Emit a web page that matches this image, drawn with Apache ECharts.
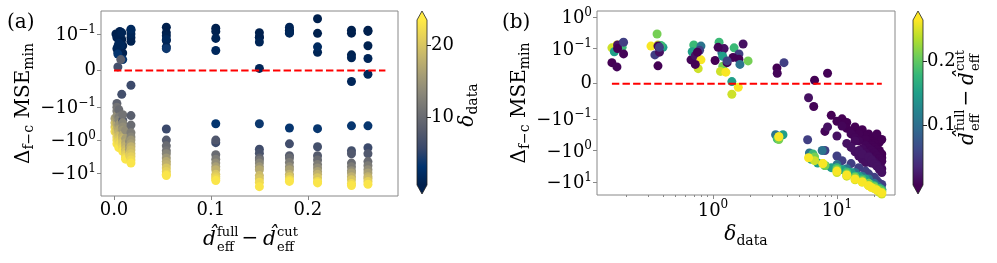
<!DOCTYPE html>
<html><head><meta charset="utf-8">
<script src="https://cdn.jsdelivr.net/npm/echarts@6/dist/echarts.min.js"></script>
<style>html,body{margin:0;padding:0;background:#fff}#c{width:997px;height:263px}</style>
</head><body><div id="c"></div>
<script>
// ---------- data: [dEffFull - dEffCut, delta_data, Delta_{f-c} MSE_min] ----------
const upperPoints = [
  [0.245,0.153,0.106],[0.262,0.168,0.13],[0.150,0.160,0.091],[0.210,0.180,0.105],[0.105,0.188,0.15],
  [0.004,0.153,0.06],[0.009,0.168,0.048],[0.181,0.185,0.11],[0.0175,0.17,0.13],[0.002,0.17,0.10],
  [0.008,0.19,0.085],[0.054,0.19,0.16],
  [0.210,0.354,0.29],[0.262,0.316,0.12],[0.245,0.360,0.13],[0.054,0.340,0.082],[0.150,0.395,0.11],
  [0.0175,0.37,0.09],[0.004,0.36,0.051],[0.181,0.38,0.125],[0.006,0.36,0.12],[0.054,0.37,0.11],
  [0.009,0.665,0.068],[0.181,0.70,0.13],[0.150,0.68,0.091],[0.0175,0.72,0.08],[0.105,0.80,0.12],
  [0.262,0.80,0.068],[0.245,0.76,0.043],[0.054,0.78,0.095],[0.003,0.75,0.09],[0.006,0.72,0.055],
  [0.004,1.04,0.066],[0.181,1.12,0.16],[0.105,1.18,0.088],[0.0175,1.23,0.10],[0.150,1.20,0.078],
  [0.210,1.20,0.05],[0.245,1.15,0.035],[0.262,1.27,0.033],[0.150,1.42,0.006],[0.262,1.60,-0.01],
  [0.245,1.42,-0.03],[0.181,1.48,0.106],[0.054,1.62,0.085],[0.007,1.62,0.07],[0.105,1.65,0.055],
  [0.0175,1.75,0.14],[0.210,1.92,0.065],[0.008,1.10,0.11],[0.005,1.45,0.075],[0.003,1.30,0.06],
  [0.054,1.30,0.065],
  [0.004,3.28,0.045],[0.009,3.30,0.03],[0.054,3.74,0.06],[0.004,6.6,0.01],[0.007,8.4,0.03],
  [0.0175,5.9,-0.04],[0.008,6.5,-0.065]
];
const lowerPoints = [
  [0.001,16,-0.22],[0.001,18,-0.3],[0.001,20,-0.4],[0.001,22,-0.55],[0.002,21,-0.3],[0.002,23,-0.45],
  [0.003,9,-0.09],[0.003,11,-0.1],[0.003,12,-0.13],[0.003,14,-0.18],[0.003,15,-0.25],[0.003,16,-0.3],
  [0.003,17,-0.35],[0.003,18,-0.45],[0.003,19,-0.55],[0.003,20,-0.6],[0.003,21,-0.8],[0.003,22,-1.0],[0.003,23,-1.3],
  [0.005,10,-0.12],[0.005,12,-0.2],[0.005,13,-0.25],[0.005,15,-0.35],[0.005,16,-0.45],[0.005,17,-0.5],
  [0.005,18,-0.6],[0.005,19,-0.75],[0.005,20,-0.9],[0.005,21,-1.1],[0.005,22,-1.4],[0.005,23,-1.7],
  [0.007,15,-0.3],[0.007,17,-0.45],[0.007,19,-0.7],[0.007,20,-0.8],[0.007,21,-0.95],[0.007,22,-1.2],
  [0.009,8,-0.25],[0.009,11,-0.17],[0.009,13,-0.3],[0.009,14,-0.4],[0.009,15,-0.5],[0.009,17,-0.7],
  [0.009,18,-0.85],[0.009,19,-1.0],[0.009,20,-1.2],[0.009,21,-1.5],[0.009,22,-1.8],[0.009,23,-2.2],
  [0.012,14,-0.5],[0.012,16,-0.9],[0.012,17,-1.2],[0.012,18,-1.5],[0.012,19,-1.9],[0.012,20,-2.3],
  [0.012,21,-2.8],[0.012,22,-3.3],[0.012,23,-3.8],
  [0.016,14,-1.1],[0.016,15,-1.5],[0.016,16,-1.9],[0.016,17,-2.4],[0.016,19,-2.5],[0.016,21,-2.9],
  [0.0175,8.4,-0.18],[0.0175,10,-0.35],[0.0175,12,-0.6],[0.0175,13,-0.8],[0.0175,15,-1.0],[0.0175,16,-1.3],
  [0.0175,18,-1.6],[0.0175,19,-2.0],[0.0175,20,-2.6],[0.0175,21,-3.2],[0.0175,22,-4.0],[0.0175,23,-5.0],
  [0.054,5.8,-0.46],[0.054,8,-1.0],[0.054,10,-1.5],[0.054,11,-2.1],[0.054,13,-2.6],[0.054,15,-3.5],
  [0.054,17,-4.5],[0.054,18,-5.5],[0.054,20,-7],[0.054,21,-9],[0.054,22,-11],[0.054,23,-12],
  [0.105,3.2,-0.32],[0.105,6.0,-1.2],[0.105,7.6,-1.0],[0.105,10,-2.8],[0.105,12,-3.8],[0.105,14,-5],
  [0.105,16,-6.5],[0.105,18,-8],[0.105,20,-11],[0.105,21,-13],[0.105,22,-15],[0.105,23,-17],
  [0.150,3.67,-0.32],[0.150,6.2,-1.9],[0.150,7,-2.5],[0.150,9,-3.5],[0.150,11,-4],[0.150,13,-5],
  [0.150,15,-6.5],[0.150,17,-8],[0.150,19,-12],[0.150,20,-15],[0.150,22,-19],[0.150,23,-26],
  [0.181,3.3,-0.43],[0.181,6.4,-1.3],[0.181,8,-3.0],[0.181,10,-3.5],[0.181,12,-4.8],[0.181,14,-6.5],
  [0.181,16,-8],[0.181,18,-11],[0.181,20,-13],[0.181,22,-16],[0.181,23,-18],
  [0.210,3.4,-0.45],[0.210,6.6,-1.6],[0.210,8,-3.0],[0.210,10,-4],[0.210,12,-5.5],[0.210,14,-7],
  [0.210,16,-9],[0.210,18,-11],[0.210,20,-14],[0.210,22,-18],[0.210,23,-20],
  [0.245,3.4,-0.37],[0.245,6.6,-2.1],[0.245,7.7,-2.6],[0.245,10,-5],[0.245,12,-6.5],[0.245,14,-8.5],
  [0.245,16,-10],[0.245,18,-13],[0.245,20,-16],[0.245,22,-21],[0.245,23,-24],
  [0.262,3.4,-0.37],[0.262,5.9,-1.7],[0.262,7.7,-2.6],[0.262,10,-4.5],[0.262,12,-6],[0.262,14,-8],
  [0.262,16,-10],[0.262,18,-13],[0.262,19,-15],[0.262,21,-18],[0.262,23,-22]
];
// axis limits and ticks
const xLimitsA = [-0.0134, 0.293];
const xTicksA = [0, 0.1, 0.2];
const yLimitsA = [-50, 0.5];
const yTicksA = [0.1, 0, -0.1, -1, -10];
const xLimitsB = [0.116, 29.4];
const xTicksB = [1, 10];
const xMinorTicksB = [0.2,0.3,0.4,0.5,0.6,0.7,0.8,0.9,2,3,4,5,6,7,8,9,20];
const yLimitsB = [-25.7, 1.55];
const yTicksB = [1, 0.1, 0, -0.1, -1, -10];
const deltaRange = [0.55, 23.47];
const dDiffRange = [0.006, 0.264];
const cbarTicksA = [10, 20];
const cbarTicksB = [0.1, 0.2];
const zeroLineA = [0, 0.28];
const cividis = ['#00204D','#00336F','#39486B','#575C6D','#707173','#8A8779','#A69D75','#C4B56C','#E4CF5B','#FFEA46'];
const viridis = ['#440154','#482878','#3E4A89','#31688E','#26828E','#1F9E89','#35B779','#6DCD59','#B4DE2C','#FDE725'];

// ---------- helpers ----------
const LT = 0.1, LS = 1 / (1 - 1 / 10);
function symlog(v){ const a = Math.abs(v); if (a <= LT) return v / LT * LS; return Math.sign(v) * (LS + Math.log10(a / LT)); }
const clamp = (v, lo, hi) => Math.max(lo, Math.min(hi, v));
const FONT = 'DejaVu Serif';
const allPoints = upperPoints.concat(lowerPoints);
const dataA = allPoints.map(p => [p[0], symlog(p[2]), clamp(p[1], deltaRange[0], deltaRange[1])]);
const dataB = allPoints.map(p => [Math.log10(p[1]), symlog(p[2]), clamp(p[0], dDiffRange[0], dDiffRange[1])]);
const deltas = allPoints.map(p => p[1]);
const zeroLineB = [Math.min(...deltas), Math.max(...deltas)];

const richTick = {
  b: {fontSize: 18, fontFamily: FONT, color: '#000', verticalAlign: 'bottom'},
  sup: {fontSize: 12, fontFamily: FONT, color: '#000', verticalAlign: 'bottom', padding: [0, 0, 9, 0]}
};
function symlogLabelFor(ticks){
  return function(val){
    let t = ticks.find(tt => Math.abs(symlog(tt) - val) < 1e-6);
    if (t === undefined) return '';
    if (t === 0) return '{b|0}';
    const e = Math.round(Math.log10(Math.abs(t)));
    return '{b|' + (t < 0 ? '\u2212' : '') + '10}{sup|' + (e < 0 ? '\u2212' + (-e) : e) + '}';
  };
}
const richName = {
  b: {fontSize: 20, fontFamily: FONT, color: '#000', verticalAlign: 'top'},
  i: {fontSize: 20, fontFamily: FONT, fontStyle: 'italic', color: '#000', verticalAlign: 'top'},
  sub: {fontSize: 14, fontFamily: FONT, color: '#000', verticalAlign: 'top', padding: [9, 0, 0, 0]}
};
const yName = '{b|\u0394}{sub|f\u2212c}{b| MSE}{sub|min}';
const tickLine = {color: '#888', width: 1};
const noLine = {show: false, onZero: false};

function yAxisSym(gi, limits, ticks){
  const tv = ticks.map(symlog);
  return {gridIndex: gi, type: 'value', position: 'left', min: symlog(limits[0]), max: symlog(limits[1]),
    axisLine: noLine, splitLine: {show: false},
    axisTick: {customValues: tv, length: 4, lineStyle: tickLine},
    axisLabel: {customValues: tv, formatter: symlogLabelFor(ticks), rich: richTick, margin: 5},
    name: yName, nameLocation: 'middle', nameRotate: 90, nameGap: 64,
    nameTextStyle: {rich: richName}};
}
function cbarSeries(xi, yi, range, stops){
  return {type: 'custom', xAxisIndex: xi, yAxisIndex: yi, silent: true, data: [[0, range[0], range[1]]],
    renderItem: function(params, api){
      const top = api.coord([0, range[1]]), bot = api.coord([1, range[0]]);
      const x0 = top[0], x1 = bot[0], y0 = top[1], y1 = bot[1], xm = (x0 + x1) / 2, ah = 9;
      const grad = new echarts.graphic.LinearGradient(0, 1, 0, 0, stops.map((c, i) => ({offset: i / (stops.length - 1), color: c})));
      return {type: 'group', children: [
        {type: 'rect', shape: {x: x0, y: y0, width: x1 - x0, height: y1 - y0}, style: {fill: grad}},
        {type: 'polygon', shape: {points: [[x0, y0], [x1, y0], [xm, y0 - ah]]}, style: {fill: stops[stops.length - 1]}},
        {type: 'polygon', shape: {points: [[x0, y1], [x1, y1], [xm, y1 + ah]]}, style: {fill: stops[0]}},
        {type: 'polygon', shape: {points: [[x0, y0], [xm, y0 - ah], [x1, y0], [x1, y1], [xm, y1 + ah], [x0, y1]]}, style: {fill: 'none', stroke: '#222', lineWidth: 0.8}}
      ]};
    }};
}
function cbarAxis(gi, range, ticks, fmt){
  return {gridIndex: gi, type: 'value', position: 'right', min: range[0], max: range[1],
    axisLine: noLine, splitLine: {show: false},
    axisTick: {customValues: ticks, length: 4, lineStyle: {color: '#222'}},
    axisLabel: {customValues: ticks, formatter: fmt, fontFamily: FONT, fontSize: 18, color: '#000', margin: 4}};
}
function dDiffLabel(cx, cy, rot){
  const t = (x, y, text, size, italic, align) => ({type: 'text', x: x, y: y, silent: true,
    style: {text: text, fontFamily: FONT, fontSize: size, fontStyle: italic ? 'italic' : 'normal', fill: '#000', align: align || 'left', verticalAlign: 'middle'}});
  return {type: 'group', x: cx, y: cy, rotation: rot || 0, children: [
    t(-47, 0, 'd\u0302', 20, true),
    t(-33, -7.5, 'full', 13),
    t(-33, 7.5, 'eff', 13),
    t(0, -1, '\u2212', 20, false, 'center'),
    t(13, 0, 'd\u0302', 20, true),
    t(27, -7.5, 'cut', 13),
    t(27, 7.5, 'eff', 13)
  ]};
}

const chart = echarts.init(document.getElementById('c'), null, {renderer: 'canvas'});
chart.setOption({
  animation: false,
  backgroundColor: '#fff',
  grid: [
    {left: 101, top: 11, width: 297, height: 185, show: true, borderColor: '#888', borderWidth: 1, backgroundColor: 'transparent'},
    {left: 597, top: 11, width: 298, height: 184, show: true, borderColor: '#888', borderWidth: 1, backgroundColor: 'transparent'},
    {left: 417, top: 20, width: 10, height: 165},
    {left: 913, top: 20, width: 10, height: 165}
  ],
  xAxis: [
    {gridIndex: 0, type: 'value', position: 'bottom', min: xLimitsA[0], max: xLimitsA[1], axisLine: noLine, splitLine: {show: false},
      axisTick: {customValues: xTicksA, length: 4, lineStyle: tickLine},
      axisLabel: {customValues: xTicksA, formatter: v => v.toFixed(1), fontFamily: FONT, fontSize: 18, color: '#000', margin: 5}},
    {gridIndex: 1, type: 'value', position: 'bottom', min: Math.log10(xLimitsB[0]), max: Math.log10(xLimitsB[1]), axisLine: noLine, splitLine: {show: false},
      axisTick: {customValues: xTicksB.map(Math.log10), length: 4, lineStyle: tickLine},
      axisLabel: {customValues: xTicksB.map(Math.log10), formatter: v => '{b|10}{sup|' + Math.round(v) + '}', rich: richTick, margin: 4},
      name: '{i|\u03b4}{sub|data}', nameLocation: 'middle', nameGap: 28, nameTextStyle: {rich: richName}},
    {gridIndex: 1, type: 'value', position: 'bottom', min: Math.log10(xLimitsB[0]), max: Math.log10(xLimitsB[1]), axisLine: noLine, splitLine: {show: false},
      axisTick: {customValues: xMinorTicksB.map(Math.log10), length: 2, lineStyle: tickLine}, axisLabel: {show: false}},
    {gridIndex: 2, type: 'value', min: 0, max: 1, show: false},
    {gridIndex: 3, type: 'value', min: 0, max: 1, show: false}
  ],
  yAxis: [
    yAxisSym(0, yLimitsA, yTicksA),
    yAxisSym(1, yLimitsB, yTicksB),
    cbarAxis(2, deltaRange, cbarTicksA, v => String(v)),
    cbarAxis(3, dDiffRange, cbarTicksB, v => v.toFixed(1))
  ],
  visualMap: [
    {type: 'continuous', show: false, seriesIndex: 0, dimension: 2, min: deltaRange[0], max: deltaRange[1], inRange: {color: cividis}},
    {type: 'continuous', show: false, seriesIndex: 1, dimension: 2, min: dDiffRange[0], max: dDiffRange[1], inRange: {color: viridis}}
  ],
  series: [
    {type: 'scatter', xAxisIndex: 0, yAxisIndex: 0, data: dataA, symbolSize: 9, itemStyle: {opacity: 1}, silent: true, z: 2},
    {type: 'scatter', xAxisIndex: 1, yAxisIndex: 1, data: dataB, symbolSize: 9, itemStyle: {opacity: 1}, silent: true, z: 2},
    {type: 'line', xAxisIndex: 0, yAxisIndex: 0, data: zeroLineA.map(x => [x, symlog(0)]), symbol: 'none', silent: true, z: 5,
      lineStyle: {color: '#ff0000', width: 2, type: [7.4, 3.2]}},
    {type: 'line', xAxisIndex: 1, yAxisIndex: 1, data: zeroLineB.map(x => [Math.log10(x), symlog(0)]), symbol: 'none', silent: true, z: 5,
      lineStyle: {color: '#ff0000', width: 2, type: [7.4, 3.2]}},
    cbarSeries(3, 2, deltaRange, cividis),
    cbarSeries(4, 3, dDiffRange, viridis)
  ],
  graphic: [
    {type: 'text', x: 7, y: 23, silent: true, style: {text: '(a)', fontFamily: FONT, fontSize: 20, fill: '#000', align: 'left', verticalAlign: 'middle'}},
    {type: 'text', x: 502, y: 23, silent: true, style: {text: '(b)', fontFamily: FONT, fontSize: 20, fill: '#000', align: 'left', verticalAlign: 'middle'}},
    {type: 'text', x: 469, y: 105, rotation: Math.PI / 2, silent: true,
      style: {text: '{i|\u03b4}{sub|data}', rich: richName, align: 'center', verticalAlign: 'middle'}},
    dDiffLabel(250, 240, 0),
    dDiffLabel(968, 98, Math.PI / 2)
  ]
});
</script>
</body></html>
